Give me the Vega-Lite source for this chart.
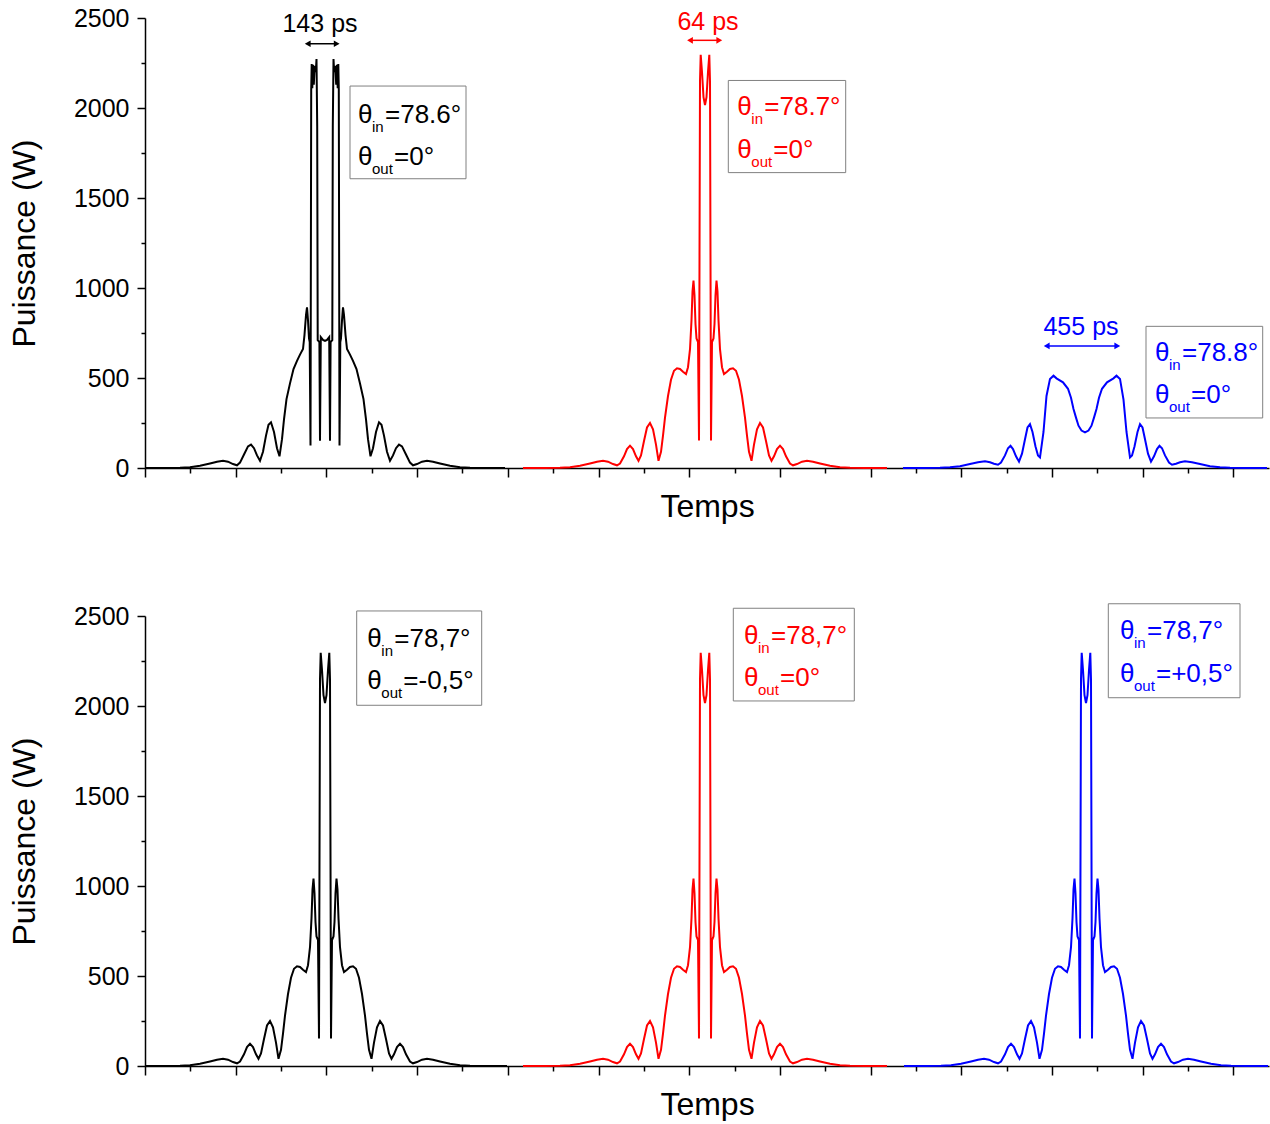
{
"$schema": "https://vega.github.io/schema/vega-lite/v6.json",
"padding": {"left": 8, "top": 6, "right": 0, "bottom": 0},
"background": "white",
"config": {
  "view": {"stroke": null},
  "font": "Liberation Sans",
  "axis": {"grid": false, "domainColor": "#000000", "tickColor": "#000000", "domainWidth": 1.5, "tickWidth": 1.5, "labelColor": "#000000", "titleColor": "#000000", "titleFont": "Liberation Sans", "labelFont": "Liberation Sans", "titleFontWeight": "normal", "titleFontSize": 32, "labelFontSize": 25},
  "concat": {"spacing": 80}
},
"datasets": {
"curvesTop": [
{"s":"k","t":0,"w":0},{"s":"k","t":20,"w":0},{"s":"k","t":35,"w":1},{"s":"k","t":45,"w":4},{"s":"k","t":55,"w":12},{"s":"k","t":65,"w":25},{"s":"k","t":72,"w":35},{"s":"k","t":78,"w":40},{"s":"k","t":83,"w":35},{"s":"k","t":88,"w":22},{"s":"k","t":92,"w":15},{"s":"k","t":95,"w":30},{"s":"k","t":99,"w":75},{"s":"k","t":103,"w":120},{"s":"k","t":106,"w":130},{"s":"k","t":109,"w":110},{"s":"k","t":112,"w":70},{"s":"k","t":115,"w":40},{"s":"k","t":118,"w":90},{"s":"k","t":121,"w":180},{"s":"k","t":123.5,"w":240},{"s":"k","t":126,"w":254},{"s":"k","t":129,"w":200},{"s":"k","t":132,"w":110},{"s":"k","t":134.5,"w":65},{"s":"k","t":137,"w":160},{"s":"k","t":139,"w":270},{"s":"k","t":141.5,"w":383},{"s":"k","t":145,"w":470},{"s":"k","t":148.5,"w":550},{"s":"k","t":152,"w":595},{"s":"k","t":155,"w":630},{"s":"k","t":158,"w":661},{"s":"k","t":159.5,"w":740},{"s":"k","t":161,"w":850},{"s":"k","t":162,"w":893},{"s":"k","t":163,"w":820},{"s":"k","t":164,"w":720},{"s":"k","t":164.7,"w":700},{"s":"k","t":165.5,"w":125},{"s":"k","t":166.2,"w":2100},{"s":"k","t":166.7,"w":2244},{"s":"k","t":167.3,"w":2110},{"s":"k","t":168,"w":2240},{"s":"k","t":168.8,"w":2130},{"s":"k","t":169.7,"w":2235},{"s":"k","t":170.8,"w":2200},{"s":"k","t":171.5,"w":2272},{"s":"k","t":172.2,"w":1900},{"s":"k","t":172.7,"w":710},{"s":"k","t":174.4,"w":700},{"s":"k","t":175,"w":152},{"s":"k","t":175.8,"w":727},{"s":"k","t":178,"w":712},{"s":"k","t":180,"w":706},
{"s":"k","t":182,"w":712},{"s":"k","t":184.2,"w":727},{"s":"k","t":185,"w":152},{"s":"k","t":185.6,"w":700},{"s":"k","t":187.3,"w":710},{"s":"k","t":187.8,"w":1900},{"s":"k","t":188.5,"w":2272},{"s":"k","t":189.2,"w":2200},{"s":"k","t":190.3,"w":2235},{"s":"k","t":191.2,"w":2130},{"s":"k","t":192,"w":2240},{"s":"k","t":192.7,"w":2110},{"s":"k","t":193.3,"w":2244},{"s":"k","t":193.8,"w":2100},{"s":"k","t":194.5,"w":125},{"s":"k","t":195.3,"w":700},{"s":"k","t":196,"w":720},{"s":"k","t":197,"w":820},{"s":"k","t":198,"w":893},{"s":"k","t":199,"w":850},{"s":"k","t":200.5,"w":740},{"s":"k","t":202,"w":661},{"s":"k","t":205,"w":630},{"s":"k","t":208,"w":595},{"s":"k","t":211.5,"w":550},{"s":"k","t":215,"w":470},{"s":"k","t":218.5,"w":383},{"s":"k","t":221,"w":270},{"s":"k","t":223,"w":160},{"s":"k","t":225.5,"w":65},{"s":"k","t":228,"w":110},{"s":"k","t":231,"w":200},{"s":"k","t":234,"w":254},{"s":"k","t":236.5,"w":240},{"s":"k","t":239,"w":180},{"s":"k","t":242,"w":90},{"s":"k","t":245,"w":40},{"s":"k","t":248,"w":70},{"s":"k","t":251,"w":110},{"s":"k","t":254,"w":130},{"s":"k","t":257,"w":120},{"s":"k","t":261,"w":75},{"s":"k","t":265,"w":30},{"s":"k","t":268,"w":15},{"s":"k","t":272,"w":22},{"s":"k","t":277,"w":35},{"s":"k","t":282,"w":40},{"s":"k","t":288,"w":35},{"s":"k","t":295,"w":25},{"s":"k","t":305,"w":12},{"s":"k","t":315,"w":4},{"s":"k","t":325,"w":1},{"s":"k","t":340,"w":0},{"s":"k","t":360,"w":0},
{"s":"r","t":378,"w":0},{"s":"r","t":400,"w":0},{"s":"r","t":415,"w":1},{"s":"r","t":425,"w":4},{"s":"r","t":435,"w":12},{"s":"r","t":445,"w":25},{"s":"r","t":452,"w":35},{"s":"r","t":458,"w":40},{"s":"r","t":463,"w":35},{"s":"r","t":468,"w":22},{"s":"r","t":472,"w":15},{"s":"r","t":475,"w":25},{"s":"r","t":479,"w":65},{"s":"r","t":482,"w":105},{"s":"r","t":485,"w":124},{"s":"r","t":488,"w":105},{"s":"r","t":491,"w":65},{"s":"r","t":493.5,"w":40},{"s":"r","t":496,"w":70},{"s":"r","t":499,"w":150},{"s":"r","t":502,"w":225},{"s":"r","t":505,"w":250},{"s":"r","t":508,"w":215},{"s":"r","t":511,"w":130},{"s":"r","t":513.5,"w":40},{"s":"r","t":516,"w":90},{"s":"r","t":518,"w":180},{"s":"r","t":520,"w":280},{"s":"r","t":523,"w":400},{"s":"r","t":526,"w":490},{"s":"r","t":529,"w":540},{"s":"r","t":532,"w":554},{"s":"r","t":535,"w":550},{"s":"r","t":538,"w":535},{"s":"r","t":541,"w":522},{"s":"r","t":543,"w":560},{"s":"r","t":545,"w":660},{"s":"r","t":546.5,"w":820},{"s":"r","t":547.5,"w":980},{"s":"r","t":548.5,"w":1041},{"s":"r","t":549.5,"w":960},{"s":"r","t":550.5,"w":800},{"s":"r","t":551.5,"w":720},{"s":"r","t":553,"w":700},{"s":"r","t":554,"w":153},{"s":"r","t":555,"w":2150},{"s":"r","t":555.7,"w":2296},{"s":"r","t":557,"w":2200},{"s":"r","t":558.5,"w":2060},{"s":"r","t":560,"w":2017},
{"s":"r","t":561.5,"w":2060},{"s":"r","t":563,"w":2200},{"s":"r","t":564.3,"w":2296},{"s":"r","t":565,"w":2150},{"s":"r","t":566,"w":153},{"s":"r","t":567,"w":700},{"s":"r","t":568.5,"w":720},{"s":"r","t":569.5,"w":800},{"s":"r","t":570.5,"w":960},{"s":"r","t":571.5,"w":1041},{"s":"r","t":572.5,"w":980},{"s":"r","t":573.5,"w":820},{"s":"r","t":575,"w":660},{"s":"r","t":577,"w":560},{"s":"r","t":579,"w":522},{"s":"r","t":582,"w":535},{"s":"r","t":585,"w":550},{"s":"r","t":588,"w":554},{"s":"r","t":591,"w":540},{"s":"r","t":594,"w":490},{"s":"r","t":597,"w":400},{"s":"r","t":600,"w":280},{"s":"r","t":602,"w":180},{"s":"r","t":604,"w":90},{"s":"r","t":606.5,"w":40},{"s":"r","t":609,"w":130},{"s":"r","t":612,"w":215},{"s":"r","t":615,"w":250},{"s":"r","t":618,"w":225},{"s":"r","t":621,"w":150},{"s":"r","t":624,"w":70},{"s":"r","t":626.5,"w":40},{"s":"r","t":629,"w":65},{"s":"r","t":632,"w":105},{"s":"r","t":635,"w":124},{"s":"r","t":638,"w":105},{"s":"r","t":641,"w":65},{"s":"r","t":645,"w":25},{"s":"r","t":648,"w":15},{"s":"r","t":652,"w":22},{"s":"r","t":657,"w":35},{"s":"r","t":662,"w":40},{"s":"r","t":668,"w":35},{"s":"r","t":675,"w":25},{"s":"r","t":685,"w":12},{"s":"r","t":695,"w":4},{"s":"r","t":705,"w":1},{"s":"r","t":720,"w":0},{"s":"r","t":742,"w":0},
{"s":"b","t":758,"w":0},{"s":"b","t":780,"w":0},{"s":"b","t":795,"w":1},{"s":"b","t":805,"w":4},{"s":"b","t":815,"w":10},{"s":"b","t":825,"w":22},{"s":"b","t":833,"w":32},{"s":"b","t":840,"w":37},{"s":"b","t":845,"w":32},{"s":"b","t":849,"w":24},{"s":"b","t":853,"w":18},{"s":"b","t":856,"w":30},{"s":"b","t":860,"w":70},{"s":"b","t":863,"w":110},{"s":"b","t":865.5,"w":124},{"s":"b","t":868,"w":105},{"s":"b","t":871,"w":65},{"s":"b","t":874,"w":35},{"s":"b","t":877,"w":80},{"s":"b","t":880,"w":160},{"s":"b","t":882.5,"w":225},{"s":"b","t":885,"w":244},{"s":"b","t":887.5,"w":200},{"s":"b","t":890.5,"w":120},{"s":"b","t":893,"w":70},{"s":"b","t":895,"w":59},{"s":"b","t":897,"w":140},{"s":"b","t":898.5,"w":200},{"s":"b","t":901.5,"w":400},{"s":"b","t":905,"w":495},{"s":"b","t":908.5,"w":513},{"s":"b","t":911.5,"w":498},{"s":"b","t":918,"w":476},{"s":"b","t":923,"w":440},{"s":"b","t":926,"w":390},{"s":"b","t":928.5,"w":328},{"s":"b","t":931,"w":280},{"s":"b","t":933.5,"w":235},{"s":"b","t":936.5,"w":208},{"s":"b","t":940,"w":198},
{"s":"b","t":943.5,"w":208},{"s":"b","t":946.5,"w":235},{"s":"b","t":949,"w":280},{"s":"b","t":951.5,"w":328},{"s":"b","t":954,"w":390},{"s":"b","t":957,"w":440},{"s":"b","t":962,"w":476},{"s":"b","t":968.5,"w":498},{"s":"b","t":971.5,"w":513},{"s":"b","t":975,"w":495},{"s":"b","t":978.5,"w":380},{"s":"b","t":981.5,"w":200},{"s":"b","t":983,"w":140},{"s":"b","t":985,"w":59},{"s":"b","t":987,"w":70},{"s":"b","t":989.5,"w":120},{"s":"b","t":992.5,"w":200},{"s":"b","t":995,"w":244},{"s":"b","t":997.5,"w":225},{"s":"b","t":1000,"w":160},{"s":"b","t":1003,"w":80},{"s":"b","t":1006,"w":35},{"s":"b","t":1009,"w":65},{"s":"b","t":1012,"w":105},{"s":"b","t":1014.5,"w":124},{"s":"b","t":1017,"w":110},{"s":"b","t":1020,"w":70},{"s":"b","t":1024,"w":30},{"s":"b","t":1027,"w":18},{"s":"b","t":1031,"w":24},{"s":"b","t":1035,"w":32},{"s":"b","t":1040,"w":37},{"s":"b","t":1047,"w":32},{"s":"b","t":1055,"w":22},{"s":"b","t":1065,"w":10},{"s":"b","t":1075,"w":4},{"s":"b","t":1085,"w":1},{"s":"b","t":1100,"w":0},{"s":"b","t":1122,"w":0}
],
"curvesBot": [
{"s":"k","t":0,"w":0},{"s":"k","t":20,"w":0},{"s":"k","t":35,"w":1},{"s":"k","t":45,"w":4},{"s":"k","t":55,"w":12},{"s":"k","t":65,"w":25},{"s":"k","t":72,"w":35},{"s":"k","t":78,"w":40},{"s":"k","t":83,"w":35},{"s":"k","t":88,"w":22},{"s":"k","t":92,"w":15},{"s":"k","t":95,"w":25},{"s":"k","t":99,"w":65},{"s":"k","t":102,"w":105},{"s":"k","t":105,"w":124},{"s":"k","t":108,"w":105},{"s":"k","t":111,"w":65},{"s":"k","t":113.5,"w":40},{"s":"k","t":116,"w":70},{"s":"k","t":119,"w":150},{"s":"k","t":122,"w":225},{"s":"k","t":125,"w":250},{"s":"k","t":128,"w":215},{"s":"k","t":131,"w":130},{"s":"k","t":133.5,"w":40},{"s":"k","t":136,"w":90},{"s":"k","t":138,"w":180},{"s":"k","t":140,"w":280},{"s":"k","t":143,"w":400},{"s":"k","t":146,"w":490},{"s":"k","t":149,"w":540},{"s":"k","t":152,"w":554},{"s":"k","t":155,"w":550},{"s":"k","t":158,"w":535},{"s":"k","t":161,"w":522},{"s":"k","t":163,"w":560},{"s":"k","t":165,"w":660},{"s":"k","t":166.5,"w":820},{"s":"k","t":167.5,"w":980},{"s":"k","t":168.5,"w":1041},{"s":"k","t":169.5,"w":960},{"s":"k","t":170.5,"w":800},{"s":"k","t":171.5,"w":720},{"s":"k","t":173,"w":700},{"s":"k","t":174,"w":153},{"s":"k","t":175,"w":2150},{"s":"k","t":175.7,"w":2296},{"s":"k","t":177,"w":2200},{"s":"k","t":178.5,"w":2060},{"s":"k","t":180,"w":2017},
{"s":"k","t":181.5,"w":2060},{"s":"k","t":183,"w":2200},{"s":"k","t":184.3,"w":2296},{"s":"k","t":185,"w":2150},{"s":"k","t":186,"w":153},{"s":"k","t":187,"w":700},{"s":"k","t":188.5,"w":720},{"s":"k","t":189.5,"w":800},{"s":"k","t":190.5,"w":960},{"s":"k","t":191.5,"w":1041},{"s":"k","t":192.5,"w":980},{"s":"k","t":193.5,"w":820},{"s":"k","t":195,"w":660},{"s":"k","t":197,"w":560},{"s":"k","t":199,"w":522},{"s":"k","t":202,"w":535},{"s":"k","t":205,"w":550},{"s":"k","t":208,"w":554},{"s":"k","t":211,"w":540},{"s":"k","t":214,"w":490},{"s":"k","t":217,"w":400},{"s":"k","t":220,"w":280},{"s":"k","t":222,"w":180},{"s":"k","t":224,"w":90},{"s":"k","t":226.5,"w":40},{"s":"k","t":229,"w":130},{"s":"k","t":232,"w":215},{"s":"k","t":235,"w":250},{"s":"k","t":238,"w":225},{"s":"k","t":241,"w":150},{"s":"k","t":244,"w":70},{"s":"k","t":246.5,"w":40},{"s":"k","t":249,"w":65},{"s":"k","t":252,"w":105},{"s":"k","t":255,"w":124},{"s":"k","t":258,"w":105},{"s":"k","t":261,"w":65},{"s":"k","t":265,"w":25},{"s":"k","t":268,"w":15},{"s":"k","t":272,"w":22},{"s":"k","t":277,"w":35},{"s":"k","t":282,"w":40},{"s":"k","t":288,"w":35},{"s":"k","t":295,"w":25},{"s":"k","t":305,"w":12},{"s":"k","t":315,"w":4},{"s":"k","t":325,"w":1},{"s":"k","t":340,"w":0},{"s":"k","t":362,"w":0},
{"s":"r","t":378,"w":0},{"s":"r","t":400,"w":0},{"s":"r","t":415,"w":1},{"s":"r","t":425,"w":4},{"s":"r","t":435,"w":12},{"s":"r","t":445,"w":25},{"s":"r","t":452,"w":35},{"s":"r","t":458,"w":40},{"s":"r","t":463,"w":35},{"s":"r","t":468,"w":22},{"s":"r","t":472,"w":15},{"s":"r","t":475,"w":25},{"s":"r","t":479,"w":65},{"s":"r","t":482,"w":105},{"s":"r","t":485,"w":124},{"s":"r","t":488,"w":105},{"s":"r","t":491,"w":65},{"s":"r","t":493.5,"w":40},{"s":"r","t":496,"w":70},{"s":"r","t":499,"w":150},{"s":"r","t":502,"w":225},{"s":"r","t":505,"w":250},{"s":"r","t":508,"w":215},{"s":"r","t":511,"w":130},{"s":"r","t":513.5,"w":40},{"s":"r","t":516,"w":90},{"s":"r","t":518,"w":180},{"s":"r","t":520,"w":280},{"s":"r","t":523,"w":400},{"s":"r","t":526,"w":490},{"s":"r","t":529,"w":540},{"s":"r","t":532,"w":554},{"s":"r","t":535,"w":550},{"s":"r","t":538,"w":535},{"s":"r","t":541,"w":522},{"s":"r","t":543,"w":560},{"s":"r","t":545,"w":660},{"s":"r","t":546.5,"w":820},{"s":"r","t":547.5,"w":980},{"s":"r","t":548.5,"w":1041},{"s":"r","t":549.5,"w":960},{"s":"r","t":550.5,"w":800},{"s":"r","t":551.5,"w":720},{"s":"r","t":553,"w":700},{"s":"r","t":554,"w":153},{"s":"r","t":555,"w":2150},{"s":"r","t":555.7,"w":2296},{"s":"r","t":557,"w":2200},{"s":"r","t":558.5,"w":2060},{"s":"r","t":560,"w":2017},
{"s":"r","t":561.5,"w":2060},{"s":"r","t":563,"w":2200},{"s":"r","t":564.3,"w":2296},{"s":"r","t":565,"w":2150},{"s":"r","t":566,"w":153},{"s":"r","t":567,"w":700},{"s":"r","t":568.5,"w":720},{"s":"r","t":569.5,"w":800},{"s":"r","t":570.5,"w":960},{"s":"r","t":571.5,"w":1041},{"s":"r","t":572.5,"w":980},{"s":"r","t":573.5,"w":820},{"s":"r","t":575,"w":660},{"s":"r","t":577,"w":560},{"s":"r","t":579,"w":522},{"s":"r","t":582,"w":535},{"s":"r","t":585,"w":550},{"s":"r","t":588,"w":554},{"s":"r","t":591,"w":540},{"s":"r","t":594,"w":490},{"s":"r","t":597,"w":400},{"s":"r","t":600,"w":280},{"s":"r","t":602,"w":180},{"s":"r","t":604,"w":90},{"s":"r","t":606.5,"w":40},{"s":"r","t":609,"w":130},{"s":"r","t":612,"w":215},{"s":"r","t":615,"w":250},{"s":"r","t":618,"w":225},{"s":"r","t":621,"w":150},{"s":"r","t":624,"w":70},{"s":"r","t":626.5,"w":40},{"s":"r","t":629,"w":65},{"s":"r","t":632,"w":105},{"s":"r","t":635,"w":124},{"s":"r","t":638,"w":105},{"s":"r","t":641,"w":65},{"s":"r","t":645,"w":25},{"s":"r","t":648,"w":15},{"s":"r","t":652,"w":22},{"s":"r","t":657,"w":35},{"s":"r","t":662,"w":40},{"s":"r","t":668,"w":35},{"s":"r","t":675,"w":25},{"s":"r","t":685,"w":12},{"s":"r","t":695,"w":4},{"s":"r","t":705,"w":1},{"s":"r","t":720,"w":0},{"s":"r","t":742,"w":0},
{"s":"b","t":759,"w":0},{"s":"b","t":781,"w":0},{"s":"b","t":796,"w":1},{"s":"b","t":806,"w":4},{"s":"b","t":816,"w":12},{"s":"b","t":826,"w":25},{"s":"b","t":833,"w":35},{"s":"b","t":839,"w":40},{"s":"b","t":844,"w":35},{"s":"b","t":849,"w":22},{"s":"b","t":853,"w":15},{"s":"b","t":856,"w":25},{"s":"b","t":860,"w":65},{"s":"b","t":863,"w":105},{"s":"b","t":866,"w":124},{"s":"b","t":869,"w":105},{"s":"b","t":872,"w":65},{"s":"b","t":874.5,"w":40},{"s":"b","t":877,"w":70},{"s":"b","t":880,"w":150},{"s":"b","t":883,"w":225},{"s":"b","t":886,"w":250},{"s":"b","t":889,"w":215},{"s":"b","t":892,"w":130},{"s":"b","t":894.5,"w":40},{"s":"b","t":897,"w":90},{"s":"b","t":899,"w":180},{"s":"b","t":901,"w":280},{"s":"b","t":904,"w":400},{"s":"b","t":907,"w":490},{"s":"b","t":910,"w":540},{"s":"b","t":913,"w":554},{"s":"b","t":916,"w":550},{"s":"b","t":919,"w":535},{"s":"b","t":922,"w":522},{"s":"b","t":924,"w":560},{"s":"b","t":926,"w":660},{"s":"b","t":927.5,"w":820},{"s":"b","t":928.5,"w":980},{"s":"b","t":929.5,"w":1041},{"s":"b","t":930.5,"w":960},{"s":"b","t":931.5,"w":800},{"s":"b","t":932.5,"w":720},{"s":"b","t":934,"w":700},{"s":"b","t":935,"w":153},{"s":"b","t":936,"w":2150},{"s":"b","t":936.7,"w":2296},{"s":"b","t":938,"w":2200},{"s":"b","t":939.5,"w":2060},{"s":"b","t":941,"w":2017},
{"s":"b","t":942.5,"w":2060},{"s":"b","t":944,"w":2200},{"s":"b","t":945.3,"w":2296},{"s":"b","t":946,"w":2150},{"s":"b","t":947,"w":153},{"s":"b","t":948,"w":700},{"s":"b","t":949.5,"w":720},{"s":"b","t":950.5,"w":800},{"s":"b","t":951.5,"w":960},{"s":"b","t":952.5,"w":1041},{"s":"b","t":953.5,"w":980},{"s":"b","t":954.5,"w":820},{"s":"b","t":956,"w":660},{"s":"b","t":958,"w":560},{"s":"b","t":960,"w":522},{"s":"b","t":963,"w":535},{"s":"b","t":966,"w":550},{"s":"b","t":969,"w":554},{"s":"b","t":972,"w":540},{"s":"b","t":975,"w":490},{"s":"b","t":978,"w":400},{"s":"b","t":981,"w":280},{"s":"b","t":983,"w":180},{"s":"b","t":985,"w":90},{"s":"b","t":987.5,"w":40},{"s":"b","t":990,"w":130},{"s":"b","t":993,"w":215},{"s":"b","t":996,"w":250},{"s":"b","t":999,"w":225},{"s":"b","t":1002,"w":150},{"s":"b","t":1005,"w":70},{"s":"b","t":1007.5,"w":40},{"s":"b","t":1010,"w":65},{"s":"b","t":1013,"w":105},{"s":"b","t":1016,"w":124},{"s":"b","t":1019,"w":105},{"s":"b","t":1022,"w":65},{"s":"b","t":1026,"w":25},{"s":"b","t":1029,"w":15},{"s":"b","t":1033,"w":22},{"s":"b","t":1038,"w":35},{"s":"b","t":1043,"w":40},{"s":"b","t":1049,"w":35},{"s":"b","t":1056,"w":25},{"s":"b","t":1066,"w":12},{"s":"b","t":1076,"w":4},{"s":"b","t":1086,"w":1},{"s":"b","t":1101,"w":0},{"s":"b","t":1123,"w":0}
],
"linesTop": [
{"s":"k","tx":213,"by":1918,"sub":"in","rest":"=78.6°"},
{"s":"k","tx":213,"by":1685,"sub":"out","rest":"=0°"},
{"s":"r","tx":592.3,"by":1959,"sub":"in","rest":"=78.7°"},
{"s":"r","tx":592.3,"by":1722,"sub":"out","rest":"=0°"},
{"s":"b","tx":1010,"by":594,"sub":"in","rest":"=78.8°"},
{"s":"b","tx":1010,"by":361,"sub":"out","rest":"=0°"}
],
"linesBot": [
{"s":"k","tx":222.3,"by":2328,"sub":"in","rest":"=78,7°"},
{"s":"k","tx":222.3,"by":2093,"sub":"out","rest":"=-0,5°"},
{"s":"r","tx":599,"by":2343,"sub":"in","rest":"=78,7°"},
{"s":"r","tx":599,"by":2111,"sub":"out","rest":"=0°"},
{"s":"b","tx":975,"by":2371,"sub":"in","rest":"=78,7°"},
{"s":"b","tx":975,"by":2135,"sub":"out","rest":"=+0,5°"}
],
"boxesTop": [
{"s":"k","bx1":205,"bx2":321,"by1":2122,"by2":1607},
{"s":"r","bx1":583.3,"bx2":700.7,"by1":2153,"by2":1641},
{"s":"b","bx1":1001,"bx2":1117.7,"by1":787,"by2":278}
],
"boxesBot": [
{"s":"k","bx1":211.7,"bx2":336.7,"by1":2528,"by2":2004},
{"s":"r","bx1":588.3,"bx2":709.3,"by1":2543,"by2":2028},
{"s":"b","bx1":963.3,"bx2":1095,"by1":2568,"by2":2046}
],
"arrowsTop": [
{"s":"k","x1":162.7,"x2":191.7,"ay":2357,"xc":175,"ly":2422,"label":"143 ps"},
{"s":"r","x1":545,"x2":574.3,"ay":2376,"xc":563,"ly":2431,"label":"64 ps"},
{"s":"b","x1":901.7,"x2":972.3,"ay":678,"xc":936,"ly":737,"label":"455 ps"}
]
},
"vconcat": [
{
 "width": 1124, "height": 450,
 "layer": [
  {"data": {"name": "curvesTop"}, "mark": {"type": "line", "strokeWidth": 2},
   "encoding": {
    "x": {"field": "t", "type": "quantitative", "scale": {"domain": [0, 1124], "nice": false, "zero": false},
      "axis": {"title": "Temps", "labels": false, "titlePadding": 14, "values": [0,45.35,90.7,136.05,181.4,226.75,272.1,317.45,362.8,408.15,453.5,498.85,544.2,589.55,634.9,680.25,725.6,770.95,816.3,861.65,907,952.35,997.7,1043.05,1088.4],
        "tickSize": {"condition": {"test": "round(datum.value*100) % 9070 === 0", "value": 9}, "value": 5}}},
    "y": {"field": "w", "type": "quantitative", "scale": {"domain": [0, 2500], "nice": false},
      "axis": {"title": "Puissance (W)", "format": "d", "values": [0,250,500,750,1000,1250,1500,1750,2000,2250,2500], "labelExpr": "datum.value % 500 === 0 ? datum.label : ''", "labelPadding": 8, "titlePadding": 32,
        "tickSize": {"condition": {"test": "datum.value % 500 === 0", "value": 8}, "value": 4}}},
    "color": {"field": "s", "type": "nominal", "scale": {"domain": ["k","r","b"], "range": ["#000000","#ff0000","#0000ff"]}, "legend": null}
   }},
  {"data": {"name": "boxesTop"}, "mark": {"type": "rect", "fill": "white", "fillOpacity": 0, "stroke": "#808080", "strokeWidth": 1},
   "encoding": {"x": {"field": "bx1", "type": "quantitative"}, "x2": {"field": "bx2"}, "y": {"field": "by1", "type": "quantitative"}, "y2": {"field": "by2"}}},
  {"data": {"name": "linesTop"}, "mark": {"type": "text", "align": "left", "baseline": "alphabetic", "fontSize": 26},
   "encoding": {"x": {"field": "tx", "type": "quantitative"}, "y": {"field": "by", "type": "quantitative"}, "text": {"value": "θ"}, "color": {"field": "s", "type": "nominal", "legend": null}}},
  {"data": {"name": "linesTop"}, "mark": {"type": "text", "align": "left", "baseline": "alphabetic", "fontSize": 15, "dx": 14, "dy": 9},
   "encoding": {"x": {"field": "tx", "type": "quantitative"}, "y": {"field": "by", "type": "quantitative"}, "text": {"field": "sub"}, "color": {"field": "s", "type": "nominal", "legend": null}}},
  {"data": {"name": "linesTop"}, "transform": [{"filter": "datum.sub === 'in'"}], "mark": {"type": "text", "align": "left", "baseline": "alphabetic", "fontSize": 26, "dx": 27},
   "encoding": {"x": {"field": "tx", "type": "quantitative"}, "y": {"field": "by", "type": "quantitative"}, "text": {"field": "rest"}, "color": {"field": "s", "type": "nominal", "legend": null}}},
  {"data": {"name": "linesTop"}, "transform": [{"filter": "datum.sub === 'out'"}], "mark": {"type": "text", "align": "left", "baseline": "alphabetic", "fontSize": 26, "dx": 36},
   "encoding": {"x": {"field": "tx", "type": "quantitative"}, "y": {"field": "by", "type": "quantitative"}, "text": {"field": "rest"}, "color": {"field": "s", "type": "nominal", "legend": null}}},
  {"data": {"name": "arrowsTop"}, "mark": {"type": "rule", "strokeWidth": 1.5},
   "encoding": {"x": {"field": "x1", "type": "quantitative"}, "x2": {"field": "x2"}, "y": {"field": "ay", "type": "quantitative"}, "color": {"field": "s", "type": "nominal", "legend": null}}},
  {"data": {"name": "arrowsTop"}, "mark": {"type": "point", "shape": "triangle-left", "filled": true, "size": 45, "opacity": 1},
   "encoding": {"x": {"field": "x1", "type": "quantitative"}, "y": {"field": "ay", "type": "quantitative"}, "color": {"field": "s", "type": "nominal", "legend": null}}},
  {"data": {"name": "arrowsTop"}, "mark": {"type": "point", "shape": "triangle-right", "filled": true, "size": 45, "opacity": 1},
   "encoding": {"x": {"field": "x2", "type": "quantitative"}, "y": {"field": "ay", "type": "quantitative"}, "color": {"field": "s", "type": "nominal", "legend": null}}},
  {"data": {"name": "arrowsTop"}, "mark": {"type": "text", "align": "center", "baseline": "alphabetic", "fontSize": 25},
   "encoding": {"x": {"field": "xc", "type": "quantitative"}, "y": {"field": "ly", "type": "quantitative"}, "text": {"field": "label"}, "color": {"field": "s", "type": "nominal", "legend": null}}}
 ]
},
{
 "width": 1124, "height": 450,
 "layer": [
  {"data": {"name": "curvesBot"}, "mark": {"type": "line", "strokeWidth": 2},
   "encoding": {
    "x": {"field": "t", "type": "quantitative", "scale": {"domain": [0, 1124], "nice": false, "zero": false},
      "axis": {"title": "Temps", "labels": false, "titlePadding": 14, "values": [0,45.35,90.7,136.05,181.4,226.75,272.1,317.45,362.8,408.15,453.5,498.85,544.2,589.55,634.9,680.25,725.6,770.95,816.3,861.65,907,952.35,997.7,1043.05,1088.4],
        "tickSize": {"condition": {"test": "round(datum.value*100) % 9070 === 0", "value": 9}, "value": 5}}},
    "y": {"field": "w", "type": "quantitative", "scale": {"domain": [0, 2500], "nice": false},
      "axis": {"title": "Puissance (W)", "format": "d", "values": [0,250,500,750,1000,1250,1500,1750,2000,2250,2500], "labelExpr": "datum.value % 500 === 0 ? datum.label : ''", "labelPadding": 8, "titlePadding": 32,
        "tickSize": {"condition": {"test": "datum.value % 500 === 0", "value": 8}, "value": 4}}},
    "color": {"field": "s", "type": "nominal", "scale": {"domain": ["k","r","b"], "range": ["#000000","#ff0000","#0000ff"]}, "legend": null}
   }},
  {"data": {"name": "boxesBot"}, "mark": {"type": "rect", "fill": "white", "fillOpacity": 0, "stroke": "#808080", "strokeWidth": 1},
   "encoding": {"x": {"field": "bx1", "type": "quantitative"}, "x2": {"field": "bx2"}, "y": {"field": "by1", "type": "quantitative"}, "y2": {"field": "by2"}}},
  {"data": {"name": "linesBot"}, "mark": {"type": "text", "align": "left", "baseline": "alphabetic", "fontSize": 26},
   "encoding": {"x": {"field": "tx", "type": "quantitative"}, "y": {"field": "by", "type": "quantitative"}, "text": {"value": "θ"}, "color": {"field": "s", "type": "nominal", "legend": null}}},
  {"data": {"name": "linesBot"}, "mark": {"type": "text", "align": "left", "baseline": "alphabetic", "fontSize": 15, "dx": 14, "dy": 9},
   "encoding": {"x": {"field": "tx", "type": "quantitative"}, "y": {"field": "by", "type": "quantitative"}, "text": {"field": "sub"}, "color": {"field": "s", "type": "nominal", "legend": null}}},
  {"data": {"name": "linesBot"}, "transform": [{"filter": "datum.sub === 'in'"}], "mark": {"type": "text", "align": "left", "baseline": "alphabetic", "fontSize": 26, "dx": 27},
   "encoding": {"x": {"field": "tx", "type": "quantitative"}, "y": {"field": "by", "type": "quantitative"}, "text": {"field": "rest"}, "color": {"field": "s", "type": "nominal", "legend": null}}},
  {"data": {"name": "linesBot"}, "transform": [{"filter": "datum.sub === 'out'"}], "mark": {"type": "text", "align": "left", "baseline": "alphabetic", "fontSize": 26, "dx": 36},
   "encoding": {"x": {"field": "tx", "type": "quantitative"}, "y": {"field": "by", "type": "quantitative"}, "text": {"field": "rest"}, "color": {"field": "s", "type": "nominal", "legend": null}}}
 ]
}
]
}
